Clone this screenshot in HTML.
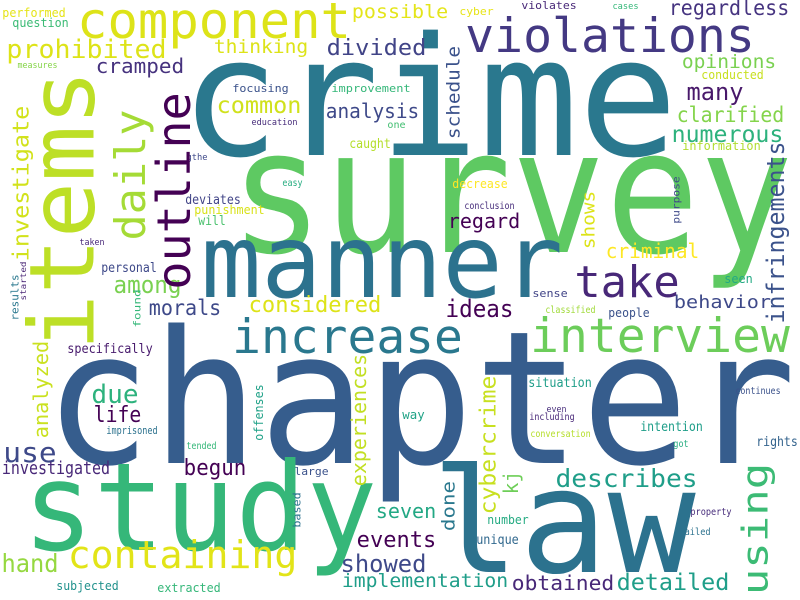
<!DOCTYPE html>
<html><head><meta charset="utf-8"><style>
html,body{margin:0;padding:0;background:#fff;}
svg{display:block;}
text{font-family:"DejaVu Sans Mono","Liberation Mono",monospace;}
</style></head><body>
<svg id="cloud" width="800" height="600" viewBox="0 0 800 600" xmlns="http://www.w3.org/2000/svg">
<rect width="800" height="600" fill="#ffffff"/>
</svg>
<script>
// horizontal words: text, left x, right x, baseline y, font size, color
const hWords = [
["crime",190,668,155,165,"#2a788e"],
["survey",240,783,252,172,"#5ec962"],
["chapter",55,785,463,185,"#365d8d"],
["study",30,370,550,122,"#35b779"],
["law",440,687,572,145,"#2c728e"],
["manner",207,557,297,102,"#2c728e"],
["take",577,677,297,44,"#482878"],
["increase",235,460,353,47,"#2a788e"],
["interview",533,787,352,47,"#6ccd5a"],
["component",80,348,38,50,"#dde318"],
["violations",468,752,52,47,"#443983"],
["prohibited",8,165,58,26,"#dde318"],
["thinking",215,307,53,19,"#dde318"],
["divided",328,425,55,22,"#414487"],
["cramped",97,183,73,20,"#46327e"],
["possible",353,447,18,19,"#e4e51a"],
["performed",3,65,17,12,"#e5e419"],
["question",13,68,27,12,"#3bbb75"],
["measures",18,57,68,9,"#86d549"],
["common",218,300,113,23,"#d0e11c"],
["analysis",327,418,118,20,"#3e4989"],
["focusing",233,288,92,11,"#3b528b"],
["improvement",332,410,92,11,"#35b779"],
["education",252,297,125,9,"#472c7a"],
["one",388,405,128,10,"#42be71"],
["caught",350,390,148,13,"#b5de2b"],
["gthe",187,207,160,9,"#3e4989"],
["easy",283,302,186,10,"#27ad81"],
["deviates",186,240,204,13,"#414487"],
["punishment",195,264,214,12,"#d8e219"],
["will",199,225,225,13,"#4ac16d"],
["taken",80,104,245,9,"#482878"],
["personal",102,156,272,13,"#3e4989"],
["among",115,180,293,24,"#7ad151"],
["cyber",460,493,15,11,"#e7e419"],
["violates",522,576,9,11,"#482878"],
["cases",613,638,9,9,"#35b779"],
["regardless",670,788,15,21,"#463480"],
["opinions",683,775,68,19,"#7ad151"],
["conducted",702,763,79,12,"#c8e020"],
["many",688,742,100,24,"#48186a"],
["clarified",678,783,122,21,"#84d44b"],
["numerous",673,782,142,23,"#2db27d"],
["information",683,760,150,12,"#b0dd2f"],
["decrease",453,507,188,12,"#fde725"],
["conclusion",465,514,209,10,"#472d7b"],
["regard",449,519,228,20,"#440154"],
["criminal",607,698,258,20,"#fde725"],
["seen",725,752,283,12,"#23a983"],
["sense",533,567,297,11,"#414487"],
["behavior",675,770,308,18,"#3e4989"],
["morals",150,220,315,21,"#3e4989"],
["considered",250,380,312,22,"#dde318"],
["specifically",68,152,353,13,"#481b6d"],
["due",93,137,403,26,"#2db27d"],
["life",95,140,422,22,"#440154"],
["imprisoned",107,157,434,11,"#2c728e"],
["tended",187,216,449,10,"#35b779"],
["use",5,55,462,28,"#3e4989"],
["investigated",3,109,474,18,"#482878"],
["begun",185,245,475,22,"#440154"],
["large",295,328,475,11,"#3b528b"],
["seven",377,435,518,20,"#22a884"],
["events",358,435,547,22,"#440154"],
["hand",3,57,572,25,"#95d840"],
["containing",70,295,568,38,"#e2e418"],
["showed",342,425,572,24,"#3e4989"],
["implementation",343,507,587,19,"#1f9e89"],
["subjected",57,118,590,12,"#21918c"],
["extracted",158,220,592,12,"#35b779"],
["ideas",447,512,317,24,"#440154"],
["classified",546,595,313,10,"#a0da39"],
["people",609,649,317,12,"#3b528b"],
["situation",529,591,387,13,"#1f9e89"],
["continues",736,780,394,10,"#3b528b"],
["way",403,424,419,12,"#20a386"],
["even",547,566,412,9,"#472d7b"],
["including",530,574,420,10,"#482878"],
["intention",641,702,431,13,"#1f9e89"],
["conversation",531,590,437,10,"#b5de2b"],
["got",674,688,447,10,"#27ad81"],
["rights",757,797,446,13,"#33638d"],
["describes",557,696,487,25,"#1f9e89"],
["property",691,731,515,10,"#472d7b"],
["number",488,528,524,12,"#25ab82"],
["jailed",680,710,535,10,"#2c728e"],
["unique",477,518,544,13,"#31688e"],
["obtained",513,613,590,20,"#482878"],
["detailed",618,728,590,23,"#1f9e89"]
];
// vertical words (read bottom-to-top): text, left x, bottom y, top y, font size, color
const vWords = [
["items",25,345,75,90,"#bddf26"],
["daily",113,238,112,42,"#a5db36"],
["outline",155,287,95,46,"#440154"],
["investigate",12,260,107,22,"#d2e21b"],
["results",10,320,275,11,"#2a788e"],
["started",20,300,262,8,"#482475"],
["found",133,327,290,10,"#35b779"],
["schedule",446,138,47,18,"#3b528b"],
["infringements",766,322,143,24,"#3b528b"],
["purpose",672,223,177,10,"#3e4989"],
["shows",581,248,192,18,"#dde318"],
["analyzed",33,437,342,20,"#cae11f"],
["offenses",254,440,385,12,"#1fa187"],
["experiences",351,485,355,20,"#c2df23"],
["based",292,527,493,11,"#2c728e"],
["cybercrime",479,513,377,22,"#c8e020"],
["kj",503,493,472,20,"#6ece58"],
["done",441,530,482,18,"#2a788e"],
["using",740,593,465,36,"#3cbb75"]
];
const NS = "http://www.w3.org/2000/svg";
const svg = document.getElementById("cloud");
function slug(s){return "word-" + s;}
hWords.forEach(w => {
  const t = document.createElementNS(NS, "text");
  const pad = w[4] * 0.06;
  t.setAttribute("x", w[1] - pad);
  t.setAttribute("y", w[3]);
  t.setAttribute("font-size", w[4]);
  t.setAttribute("fill", w[5]);
  t.setAttribute("textLength", (w[2] - w[1]) + 2 * pad);
  t.setAttribute("lengthAdjust", "spacingAndGlyphs");
  t.textContent = w[0];
  
  
  svg.appendChild(t);
});
vWords.forEach(w => {
  const t = document.createElementNS(NS, "text");
  const pad = w[4] * 0.06;
  const bx = w[1] + w[4] * 0.76;
  const by = w[2] + pad;
  t.setAttribute("x", 0);
  t.setAttribute("y", 0);
  t.setAttribute("transform", "translate(" + bx + "," + by + ") rotate(-90)");
  t.setAttribute("font-size", w[4]);
  t.setAttribute("fill", w[5]);
  t.setAttribute("textLength", (w[2] - w[3]) + 2 * pad);
  t.setAttribute("lengthAdjust", "spacingAndGlyphs");
  t.textContent = w[0];
  
  
  svg.appendChild(t);
});
</script>
</body></html>
